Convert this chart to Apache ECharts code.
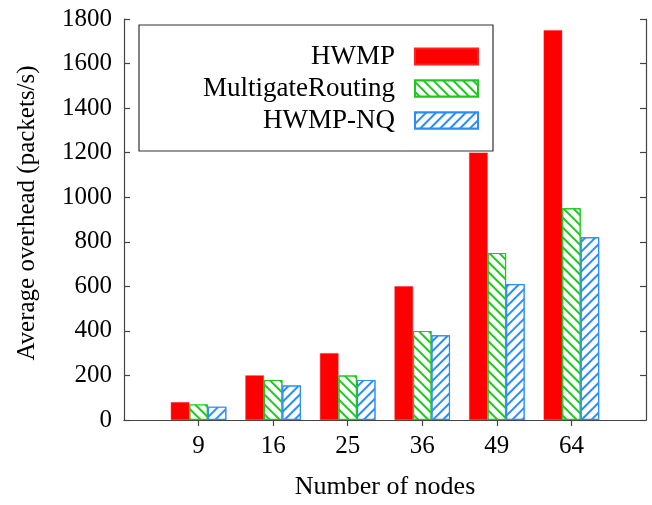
<!DOCTYPE html>
<html>
<head>
<meta charset="utf-8">
<script src="https://cdn.jsdelivr.net/npm/echarts@6/dist/echarts.min.js"></script>
<style>html,body{margin:0;padding:0;background:#fff;}#c{width:652px;height:505px;}</style>
</head>
<body>
<div id="c"></div>
<script>
var categories = ['', '9', '16', '25', '36', '49', '64', ''];
var seriesNames = ['HWMP', 'MultigateRouting', 'HWMP-NQ'];
var hwmp = [null, 80, 200, 300, 600, 1200, 1750, null];
var multigate = [null, 70, 180, 200, 400, 750, 950, null];
var hwmpNq = [null, 60, 155, 180, 380, 610, 820, null];
var yTicks = [0, 200, 400, 600, 800, 1000, 1200, 1400, 1600, 1800];
var xTitle = 'Number of nodes';
var yTitle = 'Average overhead (packets/s)';

var FONT = 'Liberation Serif';
var chart = echarts.init(document.getElementById('c'));
var axisLineStyle = {color: '#444', width: 1.2};
var tickInterval = function (i) { return i > 0 && i < categories.length - 1; };

chart.setOption({
  animation: false,
  backgroundColor: '#fff',
  grid: {left: 124, right: 6, top: 19, bottom: 84, containLabel: false},
  legend: {
    orient: 'vertical',
    left: 139, top: 25,
    align: 'right',
    icon: 'rect',
    itemWidth: 63, itemHeight: 16, itemGap: 5,
    padding: [18, 14, 17, 56],
    borderColor: '#333', borderWidth: 1.2,
    backgroundColor: '#fff',
    textStyle: {fontFamily: FONT, fontSize: 27, lineHeight: 27, color: '#000', width: 200, align: 'right', padding: [0, 15, 0, 0]},
    data: seriesNames
  },
  xAxis: [{
    type: 'category', data: categories, boundaryGap: false, position: 'bottom',
    axisLine: {lineStyle: axisLineStyle},
    axisTick: {inside: true, length: 6, interval: tickInterval, lineStyle: axisLineStyle},
    axisLabel: {fontFamily: FONT, fontSize: 25, color: '#000', margin: 14},
    name: xTitle, nameLocation: 'middle', nameGap: 54,
    nameTextStyle: {fontFamily: FONT, fontSize: 26, color: '#000'},
    splitLine: {show: false}
  }, {
    type: 'category', data: categories, boundaryGap: false, position: 'top',
    axisLine: {lineStyle: axisLineStyle},
    axisTick: {inside: true, length: 6, interval: tickInterval, lineStyle: axisLineStyle},
    axisLabel: {show: false}
  }],
  yAxis: [{
    type: 'value', min: 0, max: 1800, interval: 200, position: 'left',
    axisLine: {show: true, lineStyle: axisLineStyle},
    axisTick: {show: true, inside: true, length: 6, lineStyle: axisLineStyle},
    axisLabel: {fontFamily: FONT, fontSize: 25, color: '#000', margin: 12,
      formatter: function (v) { return yTicks.indexOf(v) >= 0 ? String(v) : ''; }},
    splitLine: {show: false},
    name: yTitle, nameLocation: 'middle', nameGap: 84,
    nameTextStyle: {fontFamily: FONT, fontSize: 25, color: '#000', padding: [0, 0, 0, 13]}
  }, {
    type: 'value', min: 0, max: 1800, interval: 200, position: 'right',
    axisLine: {show: true, lineStyle: axisLineStyle},
    axisTick: {show: true, inside: true, length: 6, lineStyle: axisLineStyle},
    axisLabel: {show: false},
    splitLine: {show: false}
  }],
  series: [{
    name: seriesNames[0], type: 'bar', data: hwmp, barWidth: 18.5, barGap: '0%',
    itemStyle: {color: '#ff0000', borderColor: '#ff2020', borderWidth: 0.5}
  }, {
    name: seriesNames[1], type: 'bar', data: multigate, barWidth: 18.5, barGap: '0%',
    itemStyle: {
      color: '#ffffff', borderColor: '#1ec81e', borderWidth: 1.2,
      decal: {symbol: 'rect', symbolSize: 1, color: '#1ec81e', backgroundColor: '#ffffff',
        dashArrayX: [1, 0], dashArrayY: [1.1, 4.4], rotation: Math.PI / 4}
    }
  }, {
    name: seriesNames[2], type: 'bar', data: hwmpNq, barWidth: 18.5, barGap: '0%',
    itemStyle: {
      color: '#ffffff', borderColor: '#2a8cff', borderWidth: 1.2,
      decal: {symbol: 'rect', symbolSize: 1, color: '#2a8cff', backgroundColor: '#ffffff',
        dashArrayX: [1, 0], dashArrayY: [1.1, 4.4], rotation: -Math.PI / 4}
    }
  }]
});
</script>
</body>
</html>
